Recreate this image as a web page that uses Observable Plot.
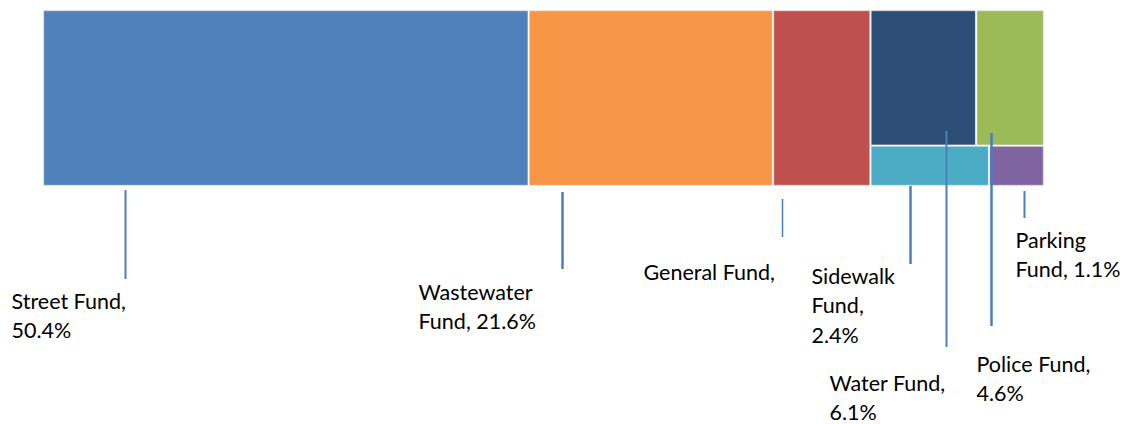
<!DOCTYPE html>
<html>
<head>
<meta charset="utf-8">
<script src="https://cdn.jsdelivr.net/npm/d3@7"></script>
<script src="https://cdn.jsdelivr.net/npm/@observablehq/plot@0.6"></script>
<style>
  html, body { margin: 0; padding: 0; background: #fff; }
  #chart svg { display: block; }
</style>
</head>
<body>
<div id="chart"></div>
<script>
// ---- data ----
const funds = ["Street Fund", "Wastewater Fund", "General Fund", "Water Fund", "Police Fund", "Sidewalk Fund", "Parking Fund"];
// area shares as drawn in the picture
const shares = [48.3, 24.3, 9.7, 8.1, 5.2, 2.7, 1.25];
// percentages as printed in the data labels (General Fund's value is cut off in the original)
const pctLabels = ["50.4%", "21.6%", "", "6.1%", "4.6%", "2.4%", "1.1%"];
// grouping of the small funds into two rows of the last column
const rowGroup = ["", "", "", "upper", "upper", "lower", "lower"];
const colors = ["#4F81BD", "#F79646", "#C0504D", "#2C4D75", "#9BBB59", "#4BACC6", "#8064A2"];

// ---- label layout (pixels in the SVG; ty = first baseline) ----
const labelLayout = {
  "Street Fund":     {lx: 125, ly1: 190, ly2: 279, lw: 2,   tx: 11,  ty: 308, breaks: [2, 1]},
  "Wastewater Fund": {lx: 562, ly1: 192, ly2: 269, lw: 2.5, tx: 418, ty: 299, breaks: [1, 2]},
  "General Fund":    {lx: 782, ly1: 199, ly2: 237, lw: 1.5, tx: 643, ty: 279, breaks: [2]},
  "Water Fund":      {lx: 946, ly1: 131, ly2: 347, lw: 2,   tx: 829, ty: 390, breaks: [2, 1]},
  "Police Fund":     {lx: 991, ly1: 133, ly2: 326, lw: 2.5, tx: 976, ty: 371, breaks: [2, 1]},
  "Sidewalk Fund":   {lx: 910, ly1: 186, ly2: 264, lw: 2.5, tx: 811, ty: 283, breaks: [1, 1, 1]},
  "Parking Fund":    {lx: 1024, ly1: 191, ly2: 218, lw: 2,  tx: 1015, ty: 247, breaks: [1, 2]}
};

const W = 1128, H = 424;
const frame = {left: 43, top: 10, right: 1044, bottom: 186};
const fontSize = 21.5;
const lineStep = 29.5;
const lineColor = "#4A7EBB";

// ---- hierarchy & layout ----
const leaves = funds.map((name, i) => ({name, value: shares[i], pct: pctLabels[i], row: rowGroup[i], color: colors[i]}));
const rootData = {children: []};
const group = {children: []};
const rowsMap = new Map();
for (const d of leaves) {
  if (!d.row) rootData.children.push(d);
  else {
    if (!rowsMap.has(d.row)) { const r = {children: []}; rowsMap.set(d.row, r); group.children.push(r); }
    rowsMap.get(d.row).children.push(d);
  }
}
rootData.children.push(group);

const root = d3.hierarchy(rootData).sum(d => d.value || 0);
d3.treemap()
  .size([frame.right - frame.left, frame.bottom - frame.top])
  .tile((node, x0, y0, x1, y1) => (node.depth % 2 === 0 ? d3.treemapDice : d3.treemapSlice)(node, x0, y0, x1, y1))
  .round(false)(root);

const cells = root.leaves().map(n => ({...n.data, x0: n.x0, x1: n.x1, y0: n.y0, y1: n.y1}));

// labels, one entry per printed line
const labels = leaves.map(d => ({...labelLayout[d.name], d}));
const textLines = labels.flatMap(l => {
  const words = (l.d.pct ? `${l.d.name}, ${l.d.pct}` : `${l.d.name},`).split(" ");
  const out = [];
  let k = 0;
  l.breaks.forEach((b, i) => {
    out.push({t: words.slice(k, k + b).join(" "), x: l.tx, y: l.ty + i * lineStep});
    k += b;
  });
  return out;
});

const px = v => v - frame.left;  // pixel -> x scale units
const py = v => v - frame.top;   // pixel -> y scale units

const chart = Plot.plot({
  width: W,
  height: H,
  marginLeft: frame.left,
  marginRight: W - frame.right,
  marginTop: frame.top,
  marginBottom: H - frame.bottom,
  x: {domain: [0, frame.right - frame.left], axis: null},
  y: {domain: [0, frame.bottom - frame.top], reverse: true, axis: null},
  style: {fontFamily: "Lato, 'Open Sans', sans-serif", background: "#fff", overflow: "visible"},
  marks: [
    Plot.rect(cells, {x1: "x0", x2: "x1", y1: "y0", y2: "y1", fill: "color", stroke: "#fff", strokeWidth: 1.5}),
    Plot.rect(cells, {x1: "x0", x2: "x1", y1: "y0", y2: "y1", fill: "none", stroke: "#d9d9d9", strokeWidth: 0.5, strokeOpacity: 0.6, inset: 1}),
    ...labels.map(l => Plot.ruleX([0], {x: () => px(l.lx), y1: () => py(l.ly1), y2: () => py(l.ly2), stroke: lineColor, strokeWidth: l.lw})),
    Plot.text(textLines, {
      x: d => px(d.x),
      y: d => py(d.y),
      text: "t",
      textAnchor: "start",
      lineAnchor: "bottom",
      fontSize: fontSize,
      fill: "#000"
    })
  ]
});
document.getElementById("chart").append(chart);
</script>
</body>
</html>
